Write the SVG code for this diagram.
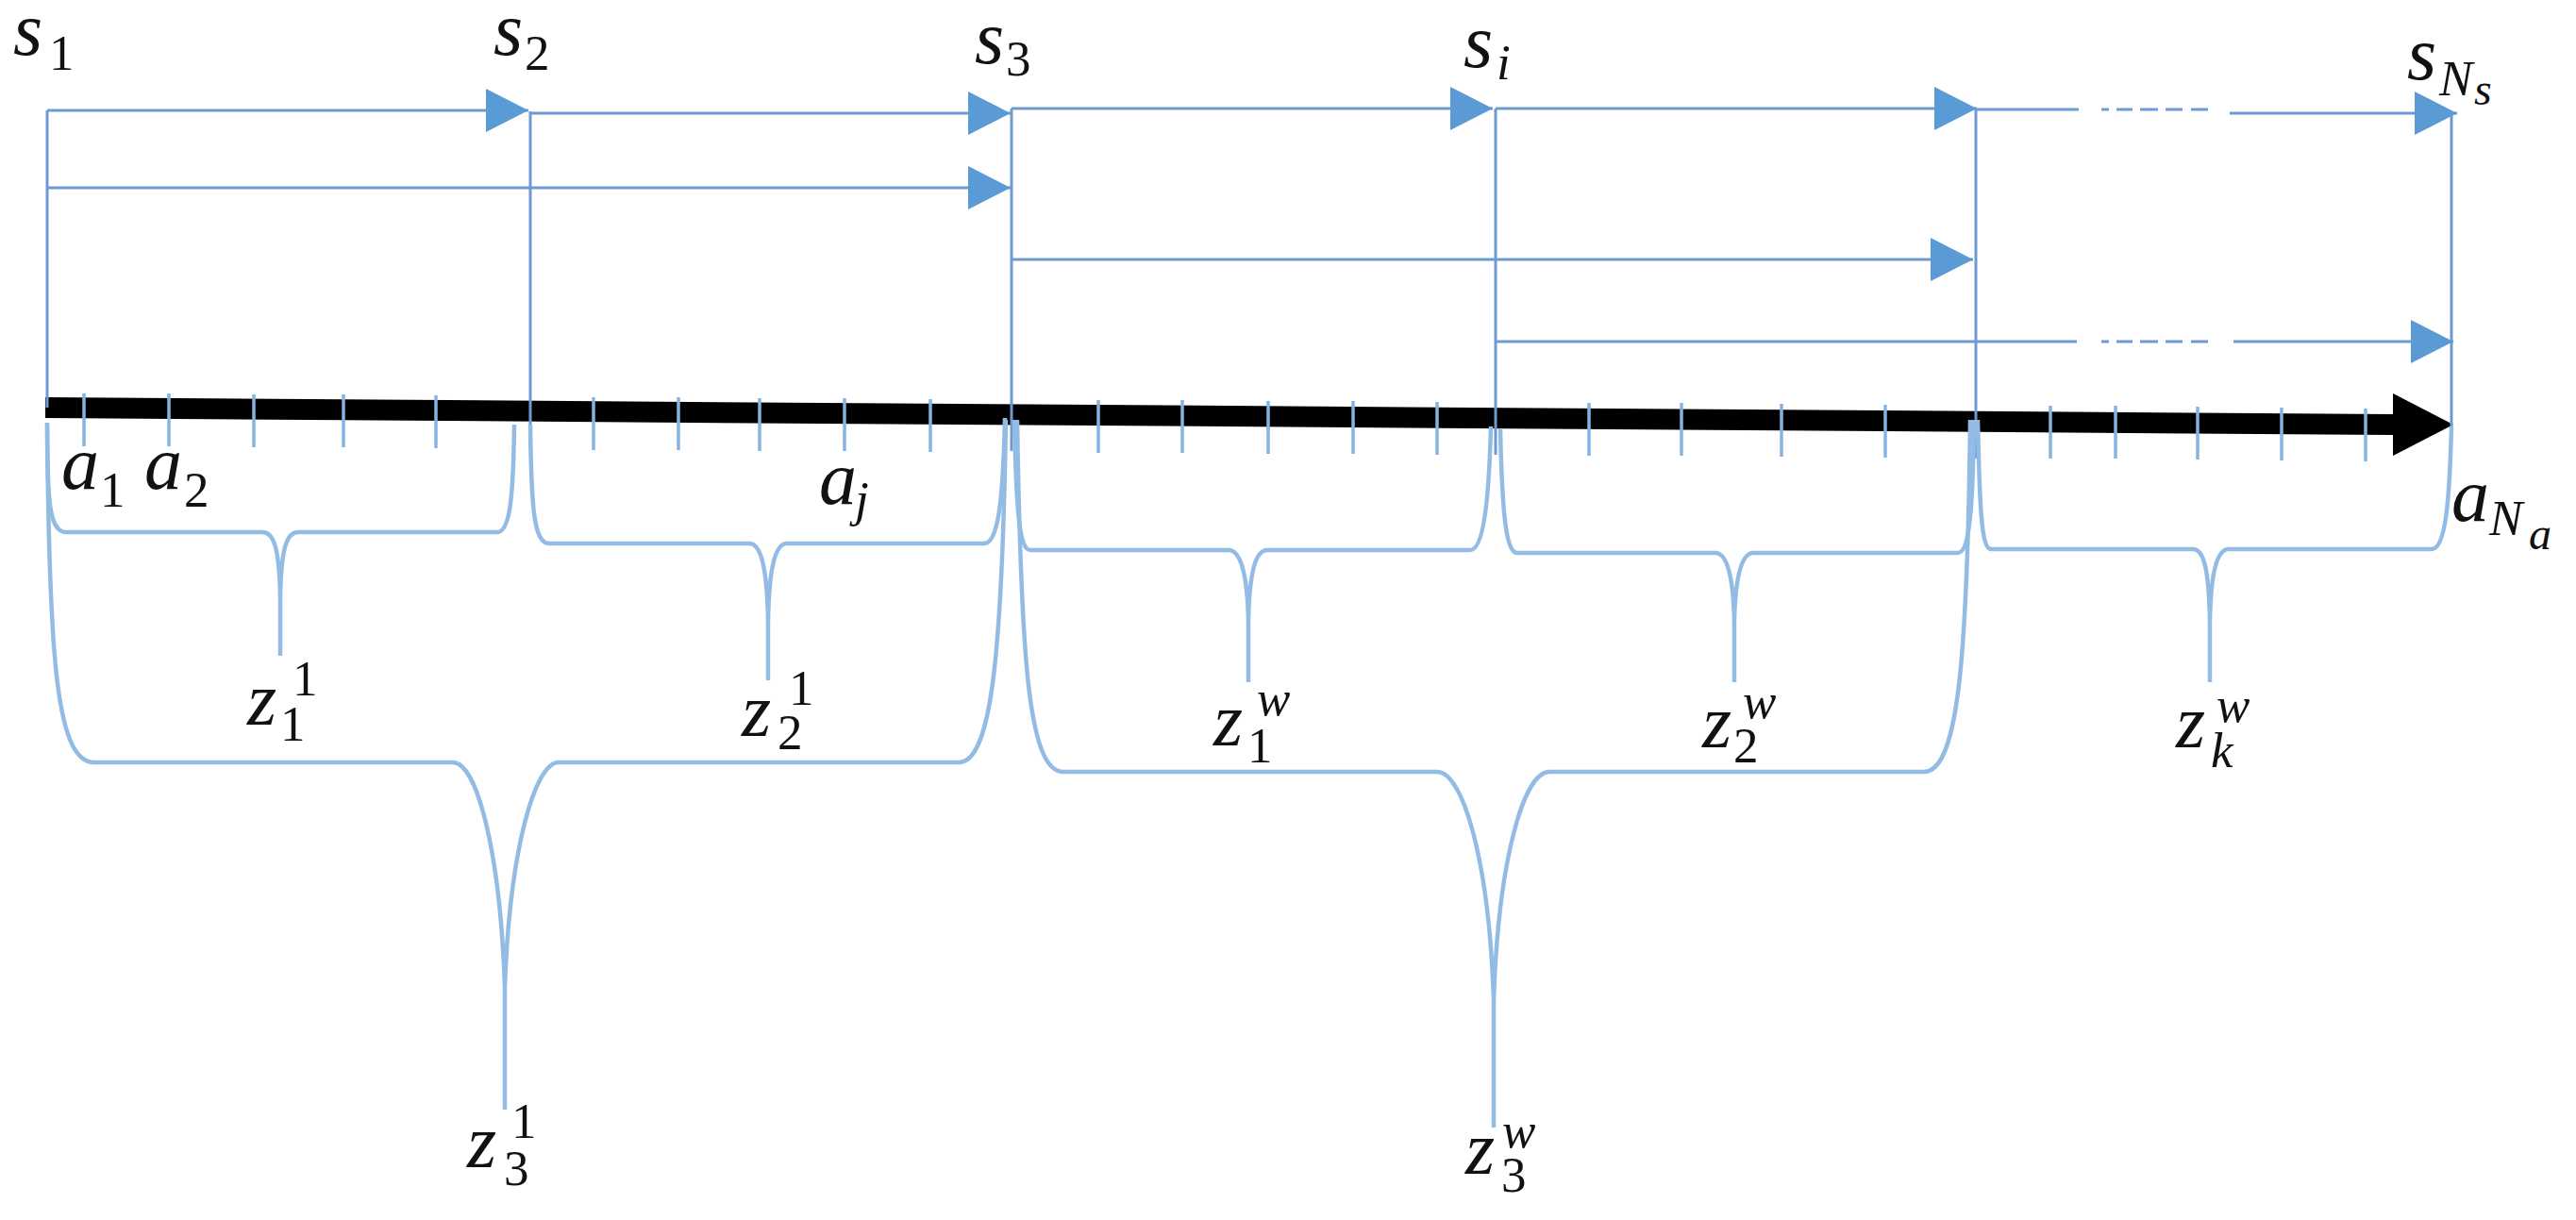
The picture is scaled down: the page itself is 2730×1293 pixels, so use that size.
<svg xmlns="http://www.w3.org/2000/svg" width="2730" height="1293" viewBox="0 0 2730 1293">
<style>
.t{font-family:"Liberation Serif","DejaVu Serif",serif;font-style:italic;fill:#111;font-size:80px}
.d{font-style:normal;font-size:53px}
.sm{font-size:53px}
.ss{font-size:48px}
.ln{stroke:#6d9bd1;stroke-width:3;fill:none}
.tk{stroke:#86b4e2;stroke-width:3.5;fill:none}
.br{stroke:#93bce5;stroke-width:4.5;fill:none;stroke-linejoin:round}
</style>
<defs>
<marker id="ah" markerWidth="46" markerHeight="48" refX="45" refY="24" orient="auto" markerUnits="userSpaceOnUse">
<path d="M0,1 L45,24 L0,47 Z" fill="#5b9bd5"/>
</marker>
</defs>
<rect width="2730" height="1293" fill="#fff"/>

<g id="axis">
<polygon points="48,421 2536,439 2536,417 2600,450 2536,483 2536,461 48,443" fill="#000"/>
</g>

<g id="ticks" class="tk">
<path d="M89,417V473 M179,417V473 M269,418V474 M364,418V474 M462,419V475"/>
<path d="M629,421V477 M719,421V477 M805,422V478 M895,422V478 M986,423V479"/>
<path d="M1164,424V480 M1253,424V480 M1344,425V481 M1434,425V481 M1523,426V482"/>
<path d="M1684,427V483 M1782,427V483 M1888,428V484 M1998,429V485"/>
<path d="M2173,430V486 M2242,430V486 M2329,431V487 M2418,432V488 M2507,433V489"/>
</g>

<g id="connectors">
<path class="ln" d="M50,117V432"/>
<path class="ln" d="M562,118V476"/>
<path class="ln" d="M1072,115V478"/>
<path class="ln" d="M1585,115V482"/>
<path class="ln" d="M2094,115V486"/>
<path class="ln" d="M2598,122V452"/>
<path class="ln" d="M50,117H560" marker-end="url(#ah)"/>
<path class="ln" d="M562,120H1071" marker-end="url(#ah)"/>
<path class="ln" d="M1072,115H1582" marker-end="url(#ah)"/>
<path class="ln" d="M1585,115H2095" marker-end="url(#ah)"/>
<path class="ln" d="M2094,116H2203"/>
<path class="ln" d="M2227,116h8 M2243,116h17 M2268,116h19 M2295,116h18 M2322,116h18"/>
<path class="ln" d="M2363,120H2604" marker-end="url(#ah)"/>
<path class="ln" d="M50,199H1071" marker-end="url(#ah)"/>
<path class="ln" d="M1072,275H2091" marker-end="url(#ah)"/>
<path class="ln" d="M1585,362H2201"/>
<path class="ln" d="M2227,362h8 M2243,362h17 M2268,362h19 M2295,362h18 M2322,362h18"/>
<path class="ln" d="M2367,362H2600" marker-end="url(#ah)"/>
</g>

<g id="braces" class="br">
<path id="b-z11" d="M50,448 C50,530 52,564 70,564 H278 C290,564 296,580 297,633 V695 M297,633 C298,580 304,564 316,564 H527 C540,564 544,530 545,450"/>
<path id="b-z21" d="M562,450 C563,540 566,576 582,576 H794 C806,576 813,600 814,659 V721 M814,659 C815,600 822,576 834,576 H1043 C1058,576 1063,530 1065,443"/>
<path id="b-z1w" d="M1075,445 C1077,540 1080,583 1092,583 H1302 C1314,583 1322,605 1323,659 V723 M1323,659 C1324,605 1331,583 1343,583 H1558 C1572,583 1578,530 1580,452"/>
<path id="b-z2w" d="M1590,455 C1592,545 1596,586 1608,586 H1818 C1830,586 1837,610 1838,659 V723 M1838,659 C1839,610 1846,586 1858,586 H2075 C2088,586 2091,530 2092,445"/>
<path id="b-zkw" d="M2096,445 C2098,540 2100,582 2110,582 H2324 C2336,582 2341,605 2342,659 V723 M2342,659 C2343,605 2350,582 2362,582 H2577 C2592,582 2596,530 2598,452"/>
<path id="b-z31" d="M50,450 C52,700 60,808 100,808 H480 C505,808 530,900 535,1047 V1176 M535,1047 C540,900 567,808 592,808 H1016 C1050,808 1062,700 1066,445"/>
<path id="b-z3w" d="M1078,445 C1082,700 1090,818 1127,818 H1523 C1550,818 1578,910 1583,1060 V1195 M1583,1060 C1588,910 1615,818 1642,818 H2039 C2075,818 2085,700 2088,445"/>
</g>

<g id="s1"><text class="t"><tspan x="14" y="58">s</tspan><tspan class="d" x="52" y="74">1</tspan></text></g>
<g id="s2"><text class="t"><tspan x="523" y="58">s</tspan><tspan class="d" x="556" y="74">2</tspan></text></g>
<g id="s3"><text class="t"><tspan x="1033" y="67">s</tspan><tspan class="d" x="1066" y="80">3</tspan></text></g>
<g id="si"><text class="t"><tspan x="1551" y="71">s</tspan><tspan class="sm" x="1586" y="84">i</tspan></text></g>
<g id="sNs"><text class="t"><tspan x="2551" y="84">s</tspan><tspan class="sm" x="2585" y="101">N</tspan><tspan class="ss" x="2622" y="111">s</tspan></text></g>

<g id="a1"><text class="t"><tspan x="65" y="518">a</tspan><tspan class="d" x="106" y="537">1</tspan></text></g>
<g id="a2"><text class="t"><tspan x="153" y="518">a</tspan><tspan class="d" x="195" y="537">2</tspan></text></g>
<g id="aj"><text class="t"><tspan x="868" y="534">a</tspan><tspan class="sm" x="906" y="547">j</tspan></text></g>
<g id="aNa"><text class="t"><tspan x="2598" y="552">a</tspan><tspan class="sm" x="2638" y="567">N</tspan><tspan class="ss" x="2680" y="582">a</tspan></text></g>

<g id="z11"><text class="t"><tspan x="262" y="768">z</tspan><tspan class="d" x="297" y="785">1</tspan><tspan class="d" x="310" y="737">1</tspan></text></g>
<g id="z21"><text class="t"><tspan x="786" y="780">z</tspan><tspan class="d" x="824" y="794">2</tspan><tspan class="d" x="836" y="747">1</tspan></text></g>
<g id="z31"><text class="t"><tspan x="495" y="1237">z</tspan><tspan class="d" x="534" y="1256">3</tspan><tspan class="d" x="542" y="1206">1</tspan></text></g>
<g id="z1w"><text class="t"><tspan x="1286" y="790">z</tspan><tspan class="d" x="1322" y="808">1</tspan><tspan class="sm" x="1332" y="758">w</tspan></text></g>
<g id="z2w"><text class="t"><tspan x="1804" y="792">z</tspan><tspan class="d" x="1837" y="808">2</tspan><tspan class="sm" x="1847" y="761">w</tspan></text></g>
<g id="zkw"><text class="t"><tspan x="2306" y="792">z</tspan><tspan class="sm" x="2343" y="813">k</tspan><tspan class="sm" x="2349" y="765">w</tspan></text></g>
<g id="z3w"><text class="t"><tspan x="1553" y="1244">z</tspan><tspan class="d" x="1591" y="1263">3</tspan><tspan class="sm" x="1592" y="1216">w</tspan></text></g>
</svg>
